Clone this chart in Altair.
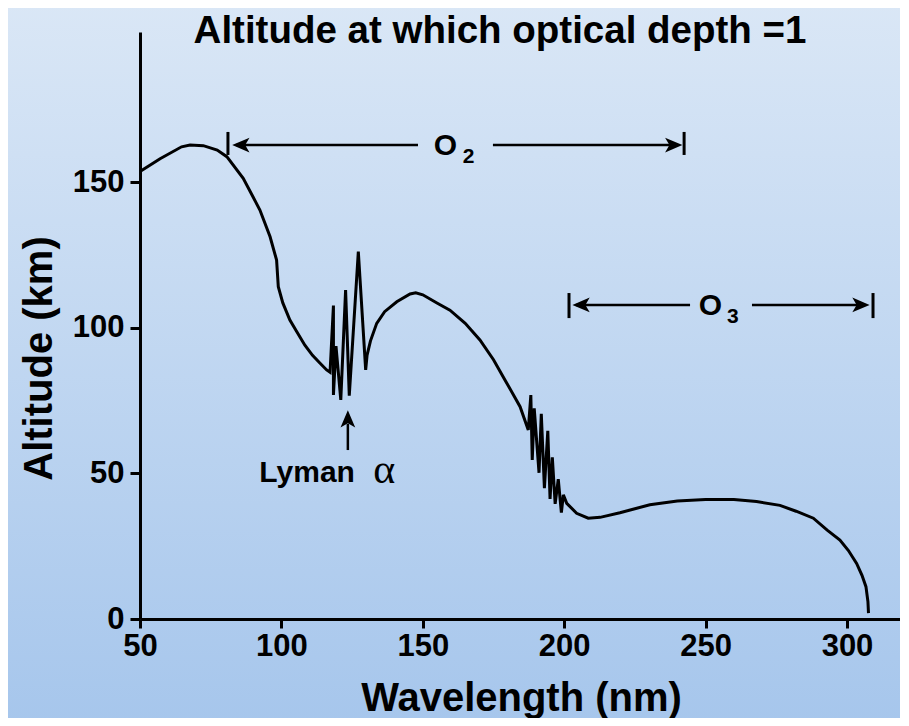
import altair as alt
import pandas as pd

# ---------------- data ----------------
wavelength = [50, 57.1, 64.7, 67.7, 72.4, 77.3, 80.7, 86.5, 92.4, 96.0, 98.3, 98.9, 100.5, 103.0,
              105.5, 108.3, 111.0, 113.6, 116.0, 117.2,
              118.4, 118.4, 119.3, 121.0, 122.7, 124.0, 127.2, 129.8,
              130.3, 131.5, 133.7, 136.5, 140.8, 145.5, 147.5, 150.0, 155.0, 159.6, 165.0, 170.2,
              175.0, 179.1, 184.4, 187.3,
              188.2, 188.7, 189.4, 191.1, 191.9, 193.0, 194.2, 195.0, 195.8, 196.8, 197.9, 199.0, 199.7,
              200.9, 204.4, 208.5, 212.7, 219.7, 230.3, 240.0, 250.0, 260.0, 268.0, 276.3, 282.0,
              288.1, 293.0, 297.5, 300.5, 303.4, 305.3, 306.7, 307.4, 307.6]
altitude = [153.6, 158.0, 162.1, 162.7, 162.5, 161.0, 158.7, 151.3, 140.4, 131.2, 123.2, 114.1, 108.5, 102.6,
            98.5, 94.0, 90.5, 87.9, 85.5, 84.7,
            107.6, 76.9, 93.7, 75.2, 112.9, 76.7, 126.1, 85.5,
            90.6, 95.5, 101.5, 105.5, 108.9, 111.6, 112.0, 111.3, 108.5, 106.0, 101.5, 95.8,
            89.0, 82.0, 72.9, 64.9,
            76.9, 54.6, 72.3, 50.2, 70.4, 44.9, 64.6, 41.2, 55.5, 39.5, 48.0, 36.5, 42.6,
            39.7, 36.3, 34.6, 34.9, 36.5, 39.2, 40.5, 41.0, 41.0, 40.3, 39.0, 37.0,
            34.6, 30.5, 27.1, 23.5, 19.1, 15.0, 11.1, 6.0, 2.0]

x_ticks = [50, 100, 150, 200, 250, 300]
y_ticks = [0, 50, 100, 150]

title_text = ["Altitude at which optical depth =1"]

# horizontal bracket lines (start nm, end nm, altitude km)
seg_x1 = [84.0, 174.8, 204.2, 266.4]
seg_x2 = [148.3, 240.0, 244.5, 306.0]
seg_y = [162.7, 162.7, 107.8, 107.8]

# bracket end bars (nm, low km, high km)
bar_x = [81.1, 242.4, 201.7, 309.2]
bar_y1 = [159.3, 159.3, 103.3, 103.3]
bar_y2 = [167.2, 167.2, 111.9, 111.9]

# arrow heads (tip position)
head_x = [82.6, 241.8, 202.9, 308.0, 123.5]
head_y = [162.7, 162.7, 107.8, 107.8, 71.7]
head_dir = ["left", "right", "left", "right", "up"]

# Lyman alpha arrow shaft
lyman_x = [123.5]
lyman_y1 = [58.0]
lyman_y2 = [67.0]

# labels
main_text = ["O", "O", "Lyman"]
main_x = [158.0, 251.7, 109.1]
main_y = [159.3, 104.4, 47.0]
sub_text = ["2", "3"]
sub_x = [166.2, 259.6]
sub_y = [156.5, 101.6]
greek_text = ["α"]
greek_x = [136.4]
greek_y = [46.8]

# ---------------- chart ----------------
FONT = "Liberation Sans"
W, H = 760, 587
xs = alt.Scale(domain=[50, 50 + W / 2.828], nice=False, zero=False)
ys = alt.Scale(domain=[0, H / 2.913], nice=False, zero=False)

grad = alt.Gradient(
    gradient="linear",
    stops=[alt.GradientStop(color="#dae7f6", offset=0),
           alt.GradientStop(color="#a6c6ec", offset=1)],
    x1=0, x2=0, y1=0, y2=1,
)
bg = alt.Chart(pd.DataFrame({"a": [0]})).mark_rect(color=grad).encode(
    x=alt.value(-140), x2=alt.value(W + 20), y=alt.value(-32), y2=alt.value(H + 107)
)

title = alt.Chart(pd.DataFrame({"t": title_text})).mark_text(
    font=FONT, fontWeight="bold", fontSize=38.5, color="black", align="center", baseline="alphabetic"
).encode(x=alt.value(360), y=alt.value(11), text="t:N")

curve_df = pd.DataFrame({"nm": wavelength, "km": altitude, "i": range(len(wavelength))})
curve = alt.Chart(curve_df).mark_line(color="black", strokeWidth=3, strokeJoin="miter").encode(
    x=alt.X("nm:Q", scale=xs,
            axis=alt.Axis(values=x_ticks, title="Wavelength (nm)", grid=False, zindex=2,
                          domainColor="black", domainWidth=3, tickColor="black", tickWidth=3,
                          tickSize=9, labelFont=FONT, labelFontWeight="bold", labelFontSize=31,
                          labelColor="black", labelPadding=3, labelFlush=False,
                          titleFont=FONT, titleFontWeight="bold", titleFontSize=40,
                          titleColor="black", titleX=381, titleY=91,
                          titleBaseline="alphabetic", titleAnchor="middle")),
    y=alt.Y("km:Q", scale=ys,
            axis=alt.Axis(values=y_ticks, title="Altitude (km)", grid=False, zindex=2,
                          domainColor="black", domainWidth=3, tickColor="black", tickWidth=3,
                          tickSize=10, labelFont=FONT, labelFontWeight="bold", labelFontSize=31,
                          labelColor="black", labelPadding=6, labelFlush=False,
                          titleFont=FONT, titleFontWeight="bold", titleFontSize=40,
                          titleColor="black", titleX=-89, titleY=326, titleAngle=-90,
                          titleBaseline="alphabetic", titleAnchor="middle")),
    order="i:Q",
)

seg_df = pd.DataFrame({"x1": seg_x1, "x2": seg_x2, "y": seg_y})
segs = alt.Chart(seg_df).mark_rule(color="black", strokeWidth=2.5).encode(
    x=alt.X("x1:Q", scale=xs), x2="x2:Q", y=alt.Y("y:Q", scale=ys)
)

bar_df = pd.DataFrame({"x": bar_x, "y1": bar_y1, "y2": bar_y2})
bars = alt.Chart(bar_df).mark_rule(color="black", strokeWidth=3).encode(
    x=alt.X("x:Q", scale=xs), y=alt.Y("y1:Q", scale=ys), y2="y2:Q"
)

lyman_df = pd.DataFrame({"x": lyman_x, "y1": lyman_y1, "y2": lyman_y2})
lyman_rule = alt.Chart(lyman_df).mark_rule(color="black", strokeWidth=2.5).encode(
    x=alt.X("x:Q", scale=xs), y=alt.Y("y1:Q", scale=ys), y2="y2:Q"
)

shapes = {
    "left": "M0,0L2,-0.85L1.5,0L2,0.85Z",
    "right": "M0,0L-2,-0.85L-1.5,0L-2,0.85Z",
    "up": "M0,0L-0.85,2L0,1.5L0.85,2Z",
}
head_layers = []
for d in ["left", "right", "up"]:
    sel = [k for k, v in enumerate(head_dir) if v == d]
    df = pd.DataFrame({"x": [head_x[k] for k in sel], "y": [head_y[k] for k in sel]})
    head_layers.append(
        alt.Chart(df).mark_point(shape=shapes[d], filled=True, color="black",
                                 size=300, opacity=1, strokeWidth=0).encode(
            x=alt.X("x:Q", scale=xs), y=alt.Y("y:Q", scale=ys)
        )
    )

main_df = pd.DataFrame({"t": main_text, "x": main_x, "y": main_y})
main_lbl = alt.Chart(main_df).mark_text(font=FONT, fontWeight="bold", fontSize=30, color="black",
                                        align="center", baseline="alphabetic").encode(
    x=alt.X("x:Q", scale=xs), y=alt.Y("y:Q", scale=ys), text="t:N"
)
sub_df = pd.DataFrame({"t": sub_text, "x": sub_x, "y": sub_y})
sub_lbl = alt.Chart(sub_df).mark_text(font=FONT, fontWeight="bold", fontSize=21, color="black",
                                      align="center", baseline="alphabetic").encode(
    x=alt.X("x:Q", scale=xs), y=alt.Y("y:Q", scale=ys), text="t:N"
)
greek_df = pd.DataFrame({"t": greek_text, "x": greek_x, "y": greek_y})
greek_lbl = alt.Chart(greek_df).mark_text(font="Liberation Serif", fontSize=42, color="black",
                                          align="center", baseline="alphabetic").encode(
    x=alt.X("x:Q", scale=xs), y=alt.Y("y:Q", scale=ys), text="t:N"
)

chart = alt.layer(
    bg, title, curve, segs, bars, lyman_rule, *head_layers, main_lbl, sub_lbl, greek_lbl
).properties(
    width=W, height=H,
    autosize=alt.AutoSizeParams(type="none"),
    padding={"left": 132, "top": 24, "right": 0, "bottom": 99},
).configure(background="#dae7f6").configure_view(stroke=None)

chart.save("out.html", embed_options={"renderer": "svg", "actions": False})
